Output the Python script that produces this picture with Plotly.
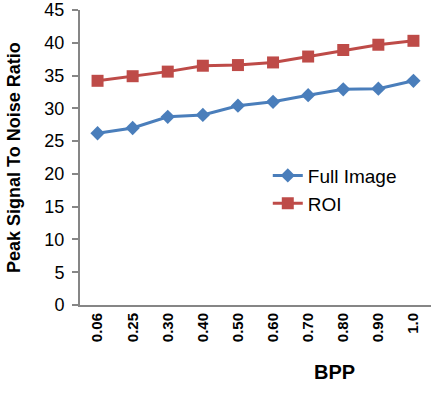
import plotly.graph_objects as go

bpp = ["0.06", "0.25", "0.30", "0.40", "0.50", "0.60", "0.70", "0.80", "0.90", "1.0"]
full_image = [26.2, 27.0, 28.7, 29.0, 30.4, 31.0, 32.0, 32.9, 33.0, 34.2]
roi = [34.2, 34.9, 35.6, 36.5, 36.6, 37.0, 37.9, 38.9, 39.7, 40.3]
y_ticks = [0, 5, 10, 15, 20, 25, 30, 35, 40, 45]

fig = go.Figure()
fig.add_trace(go.Scatter(x=bpp, y=full_image, name="Full Image", mode="lines+markers",
                         line=dict(color="#4A7EBB", width=3),
                         marker=dict(symbol="diamond", size=11, color="#4A7EBB")))
fig.add_trace(go.Scatter(x=bpp, y=roi, name="ROI", mode="lines+markers",
                         line=dict(color="#BE4B48", width=3),
                         marker=dict(symbol="square", size=12, color="#BE4B48")))

fig.update_layout(
    width=431, height=406,
    margin=dict(l=80, r=0, t=10, b=101),
    paper_bgcolor="white", plot_bgcolor="white",
    font=dict(family="Liberation Sans, Arial, sans-serif", color="black"),
    showlegend=True,
    legend=dict(x=0.535, y=0.503, xanchor="left", yanchor="top",
                font=dict(size=19, color="black"), bgcolor="rgba(0,0,0,0)",
                itemwidth=30, tracegroupgap=0),
    xaxis=dict(type="category", showgrid=False, showline=True, linecolor="#868686", linewidth=2,
               ticks="", tickangle=-90, tickfont=dict(size=15, family="Liberation Sans, Arial", weight="bold"),
               range=[-0.5, 9.5]),
    yaxis=dict(range=[0, 45], tickvals=y_ticks, showgrid=False, zeroline=False, showline=True,
               linecolor="#868686", linewidth=2, ticks="outside", ticklen=6, tickcolor="#868686", tickwidth=2,
               tickfont=dict(size=18), ticklabelstandoff=4),
    annotations=[
        dict(text="<b>Peak Signal To Noise Ratio</b>", xref="paper", yref="paper",
             x=(14 - 80) / 351, y=(305 - 158) / 295, textangle=-90, showarrow=False,
             font=dict(size=18), xanchor="center", yanchor="middle"),
        dict(text="<b>BPP</b>", xref="paper", yref="paper",
             x=(334 - 80) / 351, y=(305 - 372) / 295, showarrow=False,
             font=dict(size=20), xanchor="center", yanchor="middle"),
    ],
)

fig.write_html("out.html")
